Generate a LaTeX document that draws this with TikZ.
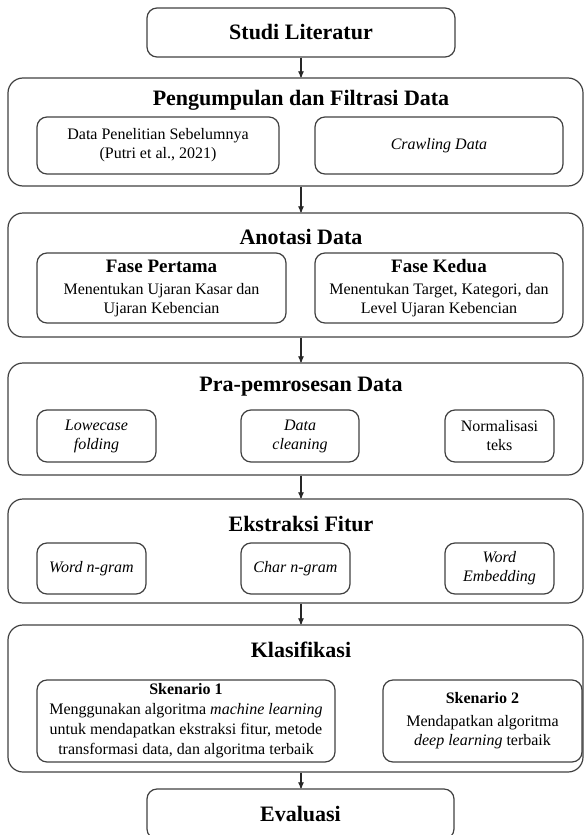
\documentclass[tikz,border=0pt]{standalone}
\usepackage{fontspec}
\setmainfont{Liberation Serif}
\usetikzlibrary{arrows}
\usetikzlibrary{calc}
\newcommand{\fasefont}{\fontsize{19}{22}\selectfont\bfseries}
\newcommand{\skenfont}{\fontsize{16}{19}\selectfont\bfseries}

\begin{document}
\begin{tikzpicture}[x=1pt,y=-1pt,
 tahap/.style={draw=black!75, line width=1.2pt, rounded corners=15pt, minimum width=575pt},
 kotak/.style={draw=black!75, line width=1.2pt, rounded corners=10pt, align=center,
   inner sep=1pt, font=\fontsize{16}{19}\selectfont},
 judul/.style={font=\fontsize{22}{26}\selectfont\bfseries},
 panah/.style={draw=black!85, line width=1.2pt, ->, >=stealth'}]
\useasboundingbox (0,0) rectangle (584,835);

% tahap awal
\node[kotak, judul, rounded corners=10pt, minimum width=308pt, minimum height=49pt] (studi) at (301,32.5) {Studi Literatur};

% pengumpulan data
\node[tahap, minimum height=108pt] (kumpul) at (295.5,132) {};
\node[judul] (kumpulJ) at (301,100) {Pengumpulan dan Filtrasi Data};
\node[kotak, minimum width=242pt, minimum height=57pt] (lama) at (158,145.5) {Data Penelitian Sebelumnya\\(Putri et al., 2021)};
\node[kotak, minimum width=248pt, minimum height=57pt] (crawl) at (439,145.5) {\textit{Crawling Data}};

% anotasi
\node[tahap, minimum height=124pt] (anotasi) at (295.5,275) {};
\node[judul] (anotasiJ) at (301,237) {Anotasi Data};
\node[kotak, minimum width=249pt, minimum height=70pt] (fase1) at (161.5,288)
 {{\fasefont Fase Pertama}\\[3pt]Menentukan Ujaran Kasar dan\\Ujaran Kebencian};
\node[kotak, minimum width=248pt, minimum height=70pt] (fase2) at (439,288)
 {{\fasefont Fase Kedua}\\[3pt]Menentukan Target, Kategori, dan\\Level Ujaran Kebencian};

% pra-pemrosesan
\node[tahap, minimum height=112pt] (prapro) at (295.5,419) {};
\node[judul] (praproJ) at (301,387) {Pra-pemrosesan Data};
\node[kotak, minimum width=119pt, minimum height=52pt] (lower) at (96.5,436) {\textit{Lowecase}\\\textit{folding}};
\node[kotak, minimum width=118pt, minimum height=52pt] (clean) at (300,436) {\textit{Data}\\\textit{cleaning}};
\node[kotak, minimum width=109pt, minimum height=52pt] (norm) at (499.5,436) {Normalisasi\\teks};

% ekstraksi fitur
\node[tahap, minimum height=104pt] (fitur) at (295.5,551) {};
\node[judul] (fiturJ) at (301,524) {Ekstraksi Fitur};
\node[kotak, minimum width=109pt, minimum height=51pt] (wng) at (91.5,568.5) {\textit{Word n-gram}};
\node[kotak, minimum width=109pt, minimum height=51pt] (cng) at (295.5,568.5) {\textit{Char n-gram}};
\node[kotak, minimum width=109pt, minimum height=51pt] (emb) at (499.5,568.5) {\textit{Word}\\\textit{Embedding}};

% klasifikasi
\node[tahap, minimum height=147pt] (klas) at (295.5,698.5) {};
\node[judul] (klasJ) at (301,650) {Klasifikasi};
\node[kotak, minimum width=298pt, minimum height=82pt, font=\fontsize{16}{20}\selectfont] (sken1) at (186,721)
 {{\skenfont Skenario 1}\\Menggunakan algoritma \textit{machine learning}\\untuk mendapatkan ekstraksi fitur, metode\\transformasi data, dan algoritma terbaik};
\node[kotak, minimum width=199pt, minimum height=82pt] (sken2) at (482.5,721)
 {{\skenfont Skenario 2}\\[4pt]Mendapatkan algoritma\\\textit{deep learning} terbaik};

% evaluasi
\node[kotak, judul, minimum width=307pt, minimum height=50pt] (eval) at (300.5,814) {Evaluasi};

% panah antar tahap
\draw[panah] (studi.south) -- (studi.south |- kumpul.north);
\draw[panah] (kumpul.south -| studi.south) -- (studi.south |- anotasi.north);
\draw[panah] (anotasi.south -| studi.south) -- (studi.south |- prapro.north);
\draw[panah] (prapro.south -| studi.south) -- (studi.south |- fitur.north);
\draw[panah] (fitur.south -| studi.south) -- (studi.south |- klas.north);
\draw[panah] (klas.south -| studi.south) -- (studi.south |- eval.north);
\end{tikzpicture}
\end{document}
